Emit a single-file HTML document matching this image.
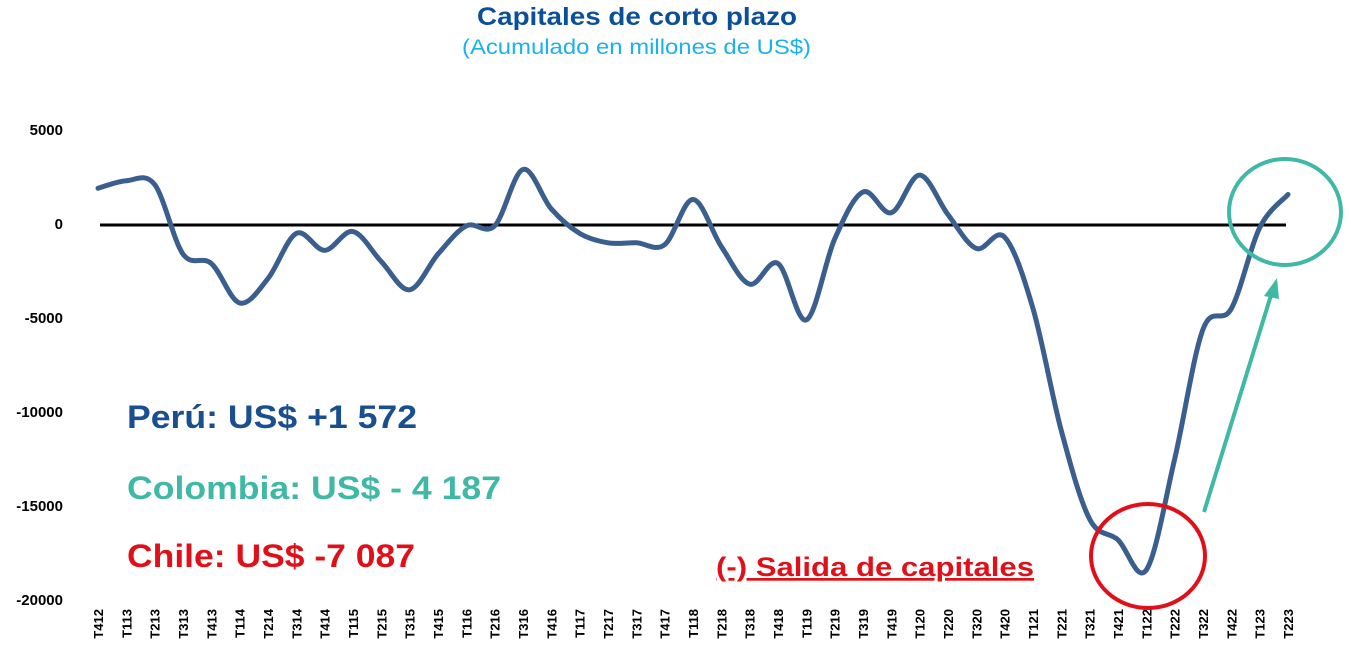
<!DOCTYPE html>
<html><head><meta charset="utf-8"><style>
html,body{margin:0;padding:0;background:#fff;}
svg{display:block;font-family:"Liberation Sans",sans-serif;}
</style></head><body>
<svg id="s" width="1351" height="666" viewBox="0 0 1351 666" xmlns="http://www.w3.org/2000/svg">
<text x="477" y="25" textLength="320" lengthAdjust="spacingAndGlyphs" font-size="25" font-weight="bold" fill="#0b4f99">Capitales de corto plazo</text>
<text x="462" y="54" textLength="349" lengthAdjust="spacingAndGlyphs" font-size="21" fill="#19b2ea">(Acumulado en millones de US$)</text>
<g font-size="15" font-weight="bold" fill="#000" text-anchor="end">
<text x="63" y="135">5000</text>
<text x="63" y="229">0</text>
<text x="63" y="323">-5000</text>
<text x="63" y="417">-10000</text>
<text x="63" y="511">-15000</text>
<text x="63" y="605">-20000</text>
</g>
<line x1="100" y1="225" x2="1286" y2="225" stroke="#000" stroke-width="3"/>
<path id="ln" fill="none" stroke="#3a5f8f" stroke-width="5" stroke-linecap="round" stroke-linejoin="round"/>
<g id="xl" font-size="13" font-weight="bold" fill="#000"></g>
<text x="127" y="428" textLength="290" lengthAdjust="spacingAndGlyphs" font-size="32" font-weight="bold" fill="#1a4f8f">Perú: US$ +1 572</text>
<text x="127" y="499" textLength="374" lengthAdjust="spacingAndGlyphs" font-size="32" font-weight="bold" fill="#40b8a6">Colombia: US$ - 4 187</text>
<text x="127" y="567" textLength="288" lengthAdjust="spacingAndGlyphs" font-size="32" font-weight="bold" fill="#e0101a">Chile: US$ -7 087</text>
<text x="716" y="576" textLength="318" lengthAdjust="spacingAndGlyphs" font-size="27" font-weight="bold" fill="#e0101a" text-decoration="underline">(-) Salida de capitales</text>
<ellipse cx="1148" cy="556" rx="57" ry="52" fill="none" stroke="#e0101a" stroke-width="4"/>
<ellipse cx="1285" cy="212" rx="56" ry="53" fill="none" stroke="#40b8a6" stroke-width="4"/>
<line x1="1204" y1="512" x2="1272" y2="292" stroke="#40b8a6" stroke-width="4"/>
<polygon points="1277,278 1264,296 1279,299" fill="#40b8a6"/>
</svg>
<script>
var labels="T412 T113 T213 T313 T413 T114 T214 T314 T414 T115 T215 T315 T415 T116 T216 T316 T416 T117 T217 T317 T417 T118 T218 T318 T418 T119 T219 T319 T419 T120 T220 T320 T420 T121 T221 T321 T421 T122 T222 T322 T422 T123 T223".split(" ");
var v=[1900,2300,2100,-1600,-2100,-4200,-2900,-500,-1400,-400,-2000,-3500,-1600,-100,-100,2900,800,-500,-1000,-1000,-1100,1300,-1200,-3200,-2100,-5100,-800,1700,600,2600,500,-1300,-700,-4500,-11000,-15700,-16800,-18400,-12500,-5600,-4500,-200,1572];
var ns="http://www.w3.org/2000/svg",g=document.getElementById("xl");
var P=[];
for(var i=0;i<labels.length;i++){
 var x=98+i*(1190/42);
 P.push([x,224-v[i]*94/5000]);
 var t=document.createElementNS(ns,"text");
 t.setAttribute("transform","translate("+(x+5)+",609) rotate(-90)");
 t.setAttribute("text-anchor","end");
 t.textContent=labels[i];g.appendChild(t);
}
var d="M"+P[0][0]+","+P[0][1];
for(var i=0;i<P.length-1;i++){
 var p0=P[Math.max(0,i-1)],p1=P[i],p2=P[i+1],p3=P[Math.min(P.length-1,i+2)];
 var c1x=p1[0]+(p2[0]-p0[0])/6,c1y=p1[1]+(p2[1]-p0[1])/6;
 var c2x=p2[0]-(p3[0]-p1[0])/6,c2y=p2[1]-(p3[1]-p1[1])/6;
 d+=" C"+c1x+","+c1y+" "+c2x+","+c2y+" "+p2[0]+","+p2[1];
}
document.getElementById("ln").setAttribute("d",d);
</script>
</body></html>
